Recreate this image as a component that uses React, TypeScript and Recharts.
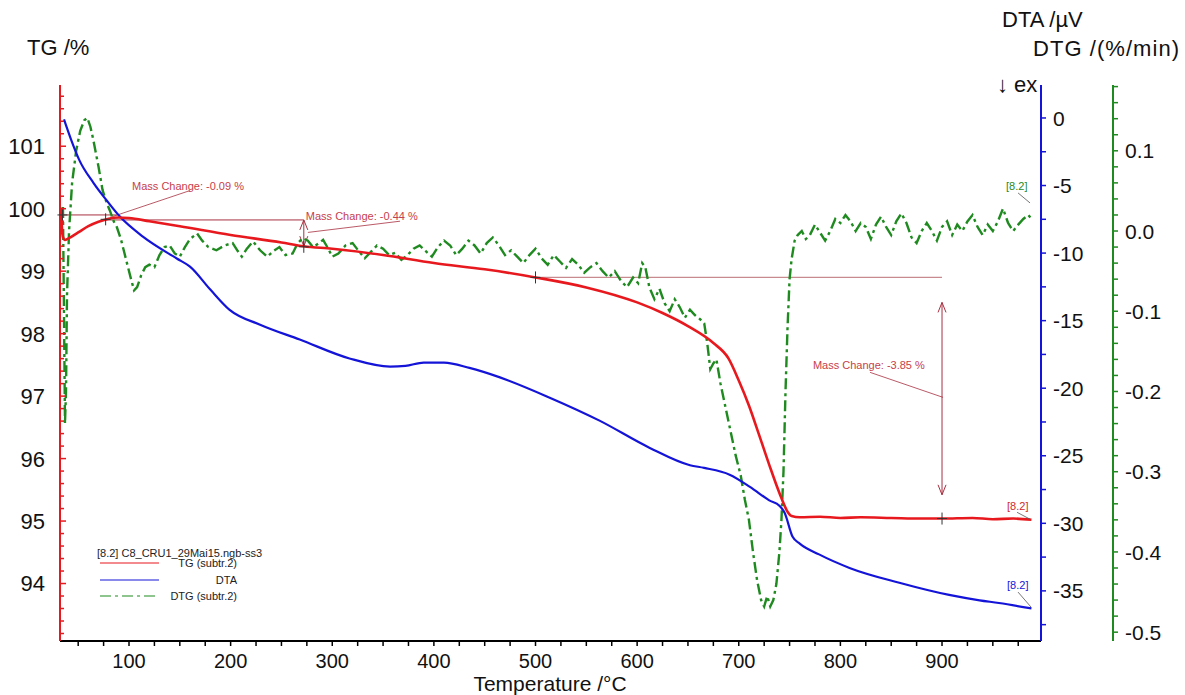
import React from 'react';
import { LineChart, Line, XAxis, YAxis, ReferenceLine, ReferenceDot } from 'recharts';

// TG curve (mass %)
const tgTemp = [33, 34, 35, 37, 40, 50, 60, 70, 80, 90, 100, 120, 150, 200, 250, 272, 300, 350, 400, 450, 500, 550, 600, 625, 650, 675, 690, 700, 710, 720, 730, 740, 748, 752, 760, 780, 800, 820, 850, 880, 900, 930, 950, 970, 988];
const tgMass = [100.02, 99.7, 99.55, 99.5, 99.52, 99.62, 99.72, 99.79, 99.84, 99.86, 99.85, 99.8, 99.72, 99.58, 99.46, 99.4, 99.36, 99.26, 99.13, 99.03, 98.9, 98.74, 98.5, 98.33, 98.12, 97.85, 97.6, 97.25, 96.85, 96.38, 95.9, 95.45, 95.15, 95.08, 95.06, 95.07, 95.05, 95.06, 95.05, 95.04, 95.04, 95.05, 95.03, 95.04, 95.02];

// DTA curve (µV)
const dtaTemp = [36, 43, 51, 65, 78, 91, 114, 147, 160, 180, 199, 229, 268, 317, 357, 372, 390, 410, 435, 465, 514, 563, 612, 652, 666, 691, 711, 730, 740, 745, 753, 760, 779, 809, 858, 907, 937, 956, 988];
const dtaSignal = [-0.1, -1.6, -3.1, -4.8, -6.1, -7.3, -8.8, -10.4, -11.0, -12.7, -14.2, -15.3, -16.4, -17.8, -18.4, -18.35, -18.1, -18.1, -18.5, -19.2, -20.7, -22.4, -24.4, -25.7, -25.9, -26.4, -27.3, -28.3, -28.7, -29.2, -31.0, -31.5, -32.3, -33.3, -34.4, -35.3, -35.7, -35.9, -36.3];

// DTG curve (%/min)
const dtgTemp = [35, 36, 37, 38, 39, 41, 44, 48, 52, 56, 59, 62, 65, 70, 74, 78, 81, 85, 88, 92, 95, 98, 102, 105, 108, 112, 116, 120, 125, 130, 135, 140, 145, 150, 155, 160, 167, 172, 178, 186, 194, 202, 207, 211, 216, 222, 229, 236, 242, 248, 254, 261, 266, 271, 276, 281, 286, 291, 296, 300, 306, 313, 320, 326, 332, 338, 344, 350, 356, 362, 368, 374, 380, 386, 392, 398, 404, 410, 416, 422, 428, 434, 440, 446, 452, 458, 464, 470, 476, 482, 488, 494, 500, 506, 512, 518, 524, 530, 536, 542, 548, 554, 560, 566, 572, 578, 584, 590, 596, 601, 605, 608, 612, 617, 622, 627, 632, 637, 642, 647, 652, 657, 662, 666, 669, 672, 675, 678, 682, 687, 692, 697, 702, 706, 710, 714, 718, 722, 725, 728, 731, 734, 737, 740, 742, 744, 746, 748, 750, 752, 755, 758, 762, 766, 770, 775, 780, 785, 790, 795, 800, 805, 810, 815, 820, 825, 830, 835, 840, 845, 850, 855, 860, 865, 870, 875, 880, 885, 890, 895, 900, 905, 910, 915, 920, 925, 930, 935, 940, 945, 950, 955, 960, 965, 970, 975, 980, 985, 988];
const dtgRate = [0.03, -0.1, -0.24, -0.2, -0.08, 0.0, 0.06, 0.1, 0.125, 0.138, 0.141, 0.13, 0.113, 0.08, 0.051, 0.035, 0.026, 0.012, 0.005, -0.01, -0.025, -0.04, -0.06, -0.074, -0.07, -0.055, -0.045, -0.042, -0.045, -0.03, -0.02, -0.018, -0.028, -0.032, -0.02, -0.01, -0.003, -0.012, -0.02, -0.024, -0.018, -0.015, -0.025, -0.032, -0.022, -0.013, -0.024, -0.032, -0.025, -0.02, -0.03, -0.028, -0.015, -0.009, -0.012, -0.02, -0.016, -0.011, -0.022, -0.032, -0.028, -0.018, -0.015, -0.025, -0.034, -0.026, -0.018, -0.022, -0.03, -0.027, -0.036, -0.03, -0.022, -0.018, -0.025, -0.032, -0.02, -0.012, -0.018, -0.03, -0.022, -0.012, -0.018, -0.028, -0.015, -0.008, -0.018, -0.03, -0.024, -0.032, -0.04, -0.03, -0.022, -0.034, -0.042, -0.03, -0.038, -0.046, -0.035, -0.042, -0.052, -0.045, -0.04, -0.05, -0.058, -0.05, -0.062, -0.07, -0.058, -0.065, -0.04, -0.045, -0.07, -0.085, -0.072, -0.09, -0.1, -0.085, -0.095, -0.108, -0.098, -0.105, -0.11, -0.115, -0.14, -0.172, -0.165, -0.16, -0.19, -0.22, -0.25, -0.28, -0.305, -0.335, -0.36, -0.4, -0.435, -0.46, -0.468, -0.455, -0.468, -0.46, -0.44, -0.4, -0.36, -0.3, -0.2, -0.12, -0.06, -0.035, -0.012, -0.005, 0.0, -0.01, -0.005, 0.008, -0.002, -0.012, 0.0, 0.015, 0.01, 0.02, 0.012, 0.0, 0.01, 0.005, -0.01, 0.008, 0.018, 0.005, -0.005, 0.012, 0.022, 0.01, -0.008, -0.015, 0.0, 0.01, 0.0, -0.012, 0.005, 0.012, -0.005, 0.008, 0.0, 0.012, 0.02, 0.005, -0.005, 0.008, 0.0, 0.012, 0.028, 0.01, 0.0, 0.008, 0.015, 0.02, 0.015];

const tempLabels = [100, 200, 300, 400, 500, 600, 700, 800, 900];
const tgLabels = [94, 95, 96, 97, 98, 99, 100, 101];
const dtaLabels = [-35, -30, -25, -20, -15, -10, -5, 0];
const dtgLabels = [-0.5, -0.4, -0.3, -0.2, -0.1, 0.0, 0.1];

const tgData = tgTemp.map((t, i) => ({ t, v: tgMass[i] }));
const dtaData = dtaTemp.map((t, i) => ({ t, v: dtaSignal[i] }));
const dtgData = dtgTemp.map((t, i) => ({ t, v: dtgRate[i] }));

const steps = (from: number, to: number, step: number) => {
  const out: number[] = [];
  for (let i = 0; from + i * step <= to + 1e-9; i++) out.push(Math.round((from + i * step) * 1000) / 1000);
  return out;
};

const xTicks = steps(50, 975, 25);
const tgTicks = steps(93.2, 101.8, 0.2);
const dtaTicks = steps(-37.5, 0, 2.5);
const dtgTicks = steps(-0.5, 0.18, 0.02);

const FONT = '"Liberation Sans", Arial, Helvetica, sans-serif';
const RED = '#e8191e';
const BLUE = '#1414d8';
const GREEN = '#1f8a1f';
const NOTE = '#c8404a';
const NOTE_LINE = '#a83040';

const isIn = (v: number, list: number[]) => list.some((m) => Math.abs(m - v) < 1e-6);

const XTick = (props: any) => {
  const { x, y, payload } = props;
  const major = isIn(payload.value, tempLabels);
  return (
    <g>
      <line x1={x} x2={x} y1={y} y2={y + 5} stroke="#000" strokeWidth={1.5} />
      {major && (
        <text x={x} y={y + 27} textAnchor="middle" fontSize={20} fontFamily={FONT} fill="#111">
          {payload.value}
        </text>
      )}
    </g>
  );
};

const TgTick = (props: any) => {
  const { x, y, payload } = props;
  const major = isIn(payload.value, tgLabels);
  return (
    <g>
      <line x1={x} x2={x + (major ? 6 : 4)} y1={y} y2={y} stroke={RED} strokeWidth={1.5} />
      {major && (
        <text x={x - 15} y={y} dy="0.36em" textAnchor="end" fontSize={22} fontFamily={FONT} fill="#111">
          {payload.value}
        </text>
      )}
    </g>
  );
};

const DtaTick = (props: any) => {
  const { x, y, payload } = props;
  const major = isIn(payload.value, dtaLabels);
  return (
    <g>
      <line x1={x} x2={x + 5} y1={y} y2={y} stroke={BLUE} strokeWidth={1.5} />
      {major && (
        <text x={x + 12} y={y} dy="0.36em" textAnchor="start" fontSize={21} fontFamily={FONT} fill="#111">
          {payload.value}
        </text>
      )}
    </g>
  );
};

const DtgTick = (props: any) => {
  const { x, y, payload } = props;
  const major = isIn(payload.value, dtgLabels);
  return (
    <g>
      <line x1={x} x2={x + 5} y1={y} y2={y} stroke={GREEN} strokeWidth={1.5} />
      {major && (
        <text x={x + 12} y={y} dy="0.36em" textAnchor="start" fontSize={21} fontFamily={FONT} fill="#111">
          {payload.value.toFixed(1)}
        </text>
      )}
    </g>
  );
};

const noteText = (text: string, color = NOTE) => (p: any) => (
  <text x={p.cx} y={p.cy} fontSize={11} fontFamily={FONT} fill={color}>
    {text}
  </text>
);

const cross = (p: any) => (
  <g stroke="#333" strokeWidth={1}>
    <line x1={p.cx - 5} x2={p.cx + 5} y1={p.cy} y2={p.cy} />
    <line x1={p.cx} x2={p.cx} y1={p.cy - 6} y2={p.cy + 6} />
  </g>
);

const arrow = (p: any) => {
  const { x1, y1, x2, y2 } = p;
  const top = Math.min(y1, y2);
  const bot = Math.max(y1, y2);
  return (
    <g stroke={NOTE_LINE} strokeWidth={1} fill="none">
      <line x1={x1} x2={x2} y1={top} y2={bot} />
      <polyline points={`${x1 - 4},${top + 10} ${x1},${top} ${x1 + 4},${top + 10}`} />
      <polyline points={`${x1 - 4},${bot - 10} ${x1},${bot} ${x1 + 4},${bot - 10}`} />
    </g>
  );
};

const App: React.FC = () => {
  return (
    <div style={{ position: 'absolute', left: 0, top: 0, width: 1185, height: 695, background: '#fff', fontFamily: FONT }}>
      <LineChart width={1185} height={695} margin={{ top: 85, right: 0, bottom: 0, left: 0 }}>
        <XAxis
          xAxisId="t"
          type="number"
          dataKey="t"
          domain={[32.1, 997.4]}
          allowDataOverflow
          ticks={xTicks}
          interval={0}
          tick={<XTick />}
          tickSize={0}
          tickMargin={0}
          tickLine={false}
          axisLine={{ stroke: '#000', strokeWidth: 2 }}
          height={54}
        />
        <YAxis
          yAxisId="tg"
          orientation="left"
          width={60}
          domain={[93.08, 101.98]}
          allowDataOverflow
          ticks={tgTicks}
          interval={0}
          tick={<TgTick />}
          tickSize={0}
          tickMargin={0}
          tickLine={false}
          axisLine={{ stroke: RED, strokeWidth: 2 }}
        />
        <YAxis
          yAxisId="dta"
          orientation="right"
          width={72}
          domain={[-38.71, 2.44]}
          allowDataOverflow
          ticks={dtaTicks}
          interval={0}
          tick={<DtaTick />}
          tickSize={0}
          tickMargin={0}
          tickLine={false}
          axisLine={{ stroke: BLUE, strokeWidth: 2 }}
        />
        <YAxis
          yAxisId="dtg"
          orientation="right"
          width={72}
          domain={[-0.511, 0.182]}
          allowDataOverflow
          ticks={dtgTicks}
          interval={0}
          tick={<DtgTick />}
          tickSize={0}
          tickMargin={0}
          tickLine={false}
          axisLine={{ stroke: GREEN, strokeWidth: 2 }}
        />

        {/* mass change evaluation marks */}
        <ReferenceLine xAxisId="t" yAxisId="tg" segment={[{ x: 32.1, y: 99.9 }, { x: 88, y: 99.9 }]} stroke={NOTE_LINE} strokeWidth={1} />
        <ReferenceLine xAxisId="t" yAxisId="tg" segment={[{ x: 77, y: 99.82 }, { x: 272, y: 99.82 }]} stroke={NOTE_LINE} strokeWidth={1} />
        <ReferenceLine xAxisId="t" yAxisId="tg" segment={[{ x: 500, y: 98.9 }, { x: 900, y: 98.9 }]} stroke="#c88a8e" strokeWidth={1.2} />
        <ReferenceLine xAxisId="t" yAxisId="tg" segment={[{ x: 160, y: 100.29 }, { x: 81.3, y: 99.86 }]} stroke={NOTE_LINE} strokeWidth={0.8} />
        <ReferenceLine xAxisId="t" yAxisId="tg" segment={[{ x: 276, y: 99.62 }, { x: 366.7, y: 99.8 }]} stroke={NOTE_LINE} strokeWidth={0.8} />
        <ReferenceLine xAxisId="t" yAxisId="tg" segment={[{ x: 829.2, y: 97.38 }, { x: 901, y: 96.98 }]} stroke={NOTE_LINE} strokeWidth={0.8} />
        <ReferenceLine xAxisId="t" yAxisId="tg" segment={[{ x: 272, y: 99.82 }, { x: 272, y: 99.4 }]} shape={arrow} />
        <ReferenceLine xAxisId="t" yAxisId="tg" segment={[{ x: 900, y: 98.5 }, { x: 900, y: 95.42 }]} shape={arrow} />

        <Line xAxisId="t" yAxisId="dtg" data={dtgData} dataKey="v" type="linear" stroke={GREEN} strokeWidth={2.4} strokeDasharray="11 4 3 4" dot={false} isAnimationActive={false} />
        <Line xAxisId="t" yAxisId="dta" data={dtaData} dataKey="v" type="monotone" stroke={BLUE} strokeWidth={2.2} dot={false} isAnimationActive={false} />
        <Line xAxisId="t" yAxisId="tg" data={tgData} dataKey="v" type="monotone" stroke={RED} strokeWidth={2.6} dot={false} isAnimationActive={false} />

        <ReferenceDot xAxisId="t" yAxisId="tg" x={34.5} y={99.9} r={0} shape={cross} />
        <ReferenceDot xAxisId="t" yAxisId="tg" x={77} y={99.83} r={0} shape={cross} />
        <ReferenceDot xAxisId="t" yAxisId="tg" x={272} y={99.39} r={0} shape={cross} />
        <ReferenceDot xAxisId="t" yAxisId="tg" x={500} y={98.9} r={0} shape={cross} />
        <ReferenceDot xAxisId="t" yAxisId="tg" x={900} y={95.04} r={0} shape={cross} />

        <ReferenceDot xAxisId="t" yAxisId="tg" x={103} y={100.3} r={0} shape={noteText('Mass Change: -0.09 %')} />
        <ReferenceDot xAxisId="t" yAxisId="tg" x={274} y={99.82} r={0} shape={noteText('Mass Change: -0.44 %')} />
        <ReferenceDot xAxisId="t" yAxisId="tg" x={773} y={97.43} r={0} shape={noteText('Mass Change: -3.85 %')} />

        <ReferenceDot xAxisId="t" yAxisId="tg" x={964} y={95.18} r={0} shape={noteText('[8.2]', '#d02a2a')} />
        <ReferenceLine xAxisId="t" yAxisId="tg" segment={[{ x: 973.8, y: 95.14 }, { x: 986.6, y: 95.03 }]} stroke="#555" strokeWidth={0.8} />
        <ReferenceDot xAxisId="t" yAxisId="dta" x={964} y={-34.86} r={0} shape={noteText('[8.2]', BLUE)} />
        <ReferenceLine xAxisId="t" yAxisId="dta" segment={[{ x: 974.8, y: -35.09 }, { x: 987.6, y: -36.2 }]} stroke="#555" strokeWidth={0.8} />
        <ReferenceDot xAxisId="t" yAxisId="dtg" x={963} y={0.051} r={0} shape={noteText('[8.2]', GREEN)} />
        <ReferenceLine xAxisId="t" yAxisId="dtg" segment={[{ x: 974.8, y: 0.0475 }, { x: 986.6, y: 0.035 }]} stroke="#555" strokeWidth={0.8} />
      </LineChart>

      <svg width={1185} height={695} style={{ position: 'absolute', left: 0, top: 0, pointerEvents: 'none' }} fontFamily={FONT}>
        <text x={27} y={55} fontSize={22} fill="#111">TG /%</text>
        <text x={1002} y={27} fontSize={22} fill="#111">DTA /µV</text>
        <text x={1033} y={56} fontSize={22} fill="#111" textLength={146}>DTG /(%/min)</text>
        <text x={997} y={92} fontSize={22} fill="#111">↓ ex</text>
        <text x={550} y={691} fontSize={21} textAnchor="middle" fill="#111">Temperature /°C</text>

        <text x={97} y={557} fontSize={11} fill="#222">[8.2] C8_CRU1_29Mai15.ngb-ss3</text>
        <line x1={100} x2={159} y1={563} y2={563} stroke={RED} strokeWidth={1.2} />
        <text x={237} y={567} fontSize={11} fill="#222" textAnchor="end">TG (subtr.2)</text>
        <line x1={100} x2={159} y1={580} y2={580} stroke={BLUE} strokeWidth={1.2} />
        <text x={237} y={584} fontSize={11} fill="#222" textAnchor="end">DTA</text>
        <line x1={100} x2={159} y1={596} y2={596} stroke={GREEN} strokeWidth={1.2} strokeDasharray="11 4 3 4" />
        <text x={237} y={600} fontSize={11} fill="#222" textAnchor="end">DTG (subtr.2)</text>
      </svg>
    </div>
  );
};

export default App;
